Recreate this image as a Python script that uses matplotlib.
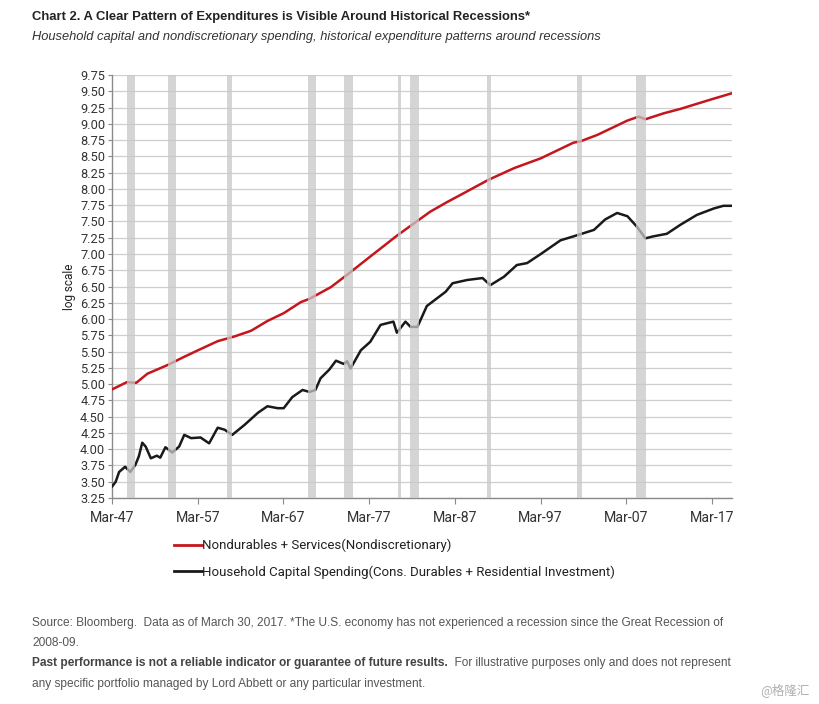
import matplotlib
matplotlib.use('Agg')
import matplotlib.pyplot as plt
from matplotlib.lines import Line2D
import numpy as np

# Nondiscretionary spending (log scale)
red_years = [1947.2, 1948.9, 1950.0, 1951.3, 1953.6, 1955.6, 1957.2, 1959.5, 1961.4, 1963.4,
             1965.3, 1967.2, 1969.2, 1970.2, 1972.7, 1974.6, 1977.2, 1980.4, 1982.4, 1984.3,
             1986.3, 1987.3, 1991.1, 1994.1, 1997.2, 2001.0, 2001.8, 2003.8, 2007.3, 2008.6,
             2009.4, 2011.5, 2013.5, 2017.2, 2019.5]
red_vals = [4.92, 5.03, 5.02, 5.16, 5.29, 5.42, 5.52, 5.66, 5.73, 5.82,
            5.97, 6.09, 6.26, 6.31, 6.49, 6.68, 6.95, 7.28, 7.47, 7.65,
            7.80, 7.87, 8.14, 8.32, 8.47, 8.71, 8.73, 8.83, 9.05, 9.11,
            9.07, 9.16, 9.23, 9.38, 9.47]

# Household capital spending (log scale)
black_years = [1947.2, 1947.6, 1948.0, 1948.7, 1949.3, 1949.9, 1950.3, 1950.7, 1951.1, 1951.7,
               1952.4, 1952.8, 1953.4, 1954.2, 1955.0, 1955.6, 1956.4, 1957.5, 1958.5, 1959.5,
               1960.3, 1961.2, 1962.6, 1964.2, 1965.3, 1966.5, 1967.2, 1968.2, 1969.4, 1970.2,
               1970.9, 1971.5, 1972.5, 1973.3, 1974.2, 1974.6, 1975.0, 1976.2, 1977.3, 1978.5,
               1980.0, 1980.4, 1981.4, 1982.0, 1982.8, 1983.9, 1985.1, 1986.1, 1986.9, 1988.6,
               1990.4, 1991.3, 1992.9, 1994.4, 1995.6, 1997.2, 1999.5, 2001.0, 2003.4, 2004.7,
               2006.1, 2007.3, 2008.4, 2009.4, 2010.3, 2011.9, 2013.5, 2015.4, 2017.4, 2018.5,
               2019.5]
black_vals = [3.43, 3.50, 3.65, 3.73, 3.65, 3.76, 3.89, 4.10, 4.04, 3.86,
              3.90, 3.87, 4.03, 3.95, 4.04, 4.22, 4.17, 4.18, 4.09, 4.33,
              4.30, 4.22, 4.37, 4.56, 4.66, 4.63, 4.63, 4.80, 4.91, 4.88,
              4.91, 5.09, 5.22, 5.36, 5.31, 5.35, 5.24, 5.52, 5.65, 5.91,
              5.96, 5.79, 5.96, 5.88, 5.88, 6.20, 6.32, 6.42, 6.55, 6.60,
              6.63, 6.52, 6.65, 6.83, 6.86, 7.00, 7.21, 7.27, 7.37, 7.53,
              7.63, 7.58, 7.42, 7.24, 7.27, 7.31, 7.45, 7.60, 7.70, 7.74,
              7.74]

# Recession bands (start, end) in decimal years
rec_start = [1948.95, 1953.7, 1960.6, 1970.05, 1974.2, 1980.55, 1981.9, 1990.9, 2001.4, 2008.25]
rec_end = [1949.9, 1954.6, 1961.2, 1970.95, 1975.3, 1980.9, 1983.0, 1991.4, 2002.0, 2009.45]

tick_years = [1947.17, 1957.17, 1967.17, 1977.17, 1987.17, 1997.17, 2007.17, 2017.17]
tick_labels = ['Mar-47', 'Mar-57', 'Mar-67', 'Mar-77', 'Mar-87', 'Mar-97', 'Mar-07', 'Mar-17']
y_ticks = np.arange(3.25, 9.76, 0.25)

narrow = ['Liberation Sans', 'DejaVu Sans']
tickfont = ['Roboto', 'DejaVu Sans']

fig = plt.figure(figsize=(8.19, 7.04), dpi=100)
ax = fig.add_axes([112 / 819, 1 - 498 / 704, 620 / 819, 423 / 704])

red_c = '#c4161c'
ax.plot(red_years, red_vals, color=red_c, lw=1.8, zorder=3)
ax.plot(black_years, black_vals, color='#1a1a1a', lw=1.8, zorder=3)

for s, e in zip(rec_start, rec_end):
    ax.axvspan(s, e, color='#c8c8c8', alpha=0.75, lw=0, zorder=4)

ax.set_xlim(1947.17, 2019.5)
ax.set_ylim(3.25, 9.75)
ax.set_yticks(y_ticks)
ax.set_yticklabels([f'{v:.2f}' for v in y_ticks])
ax.set_xticks(tick_years)
ax.set_xticklabels(tick_labels)
ax.grid(axis='y', color='#cfcfcf', lw=0.9, zorder=1)
ax.set_axisbelow(True)

for sp in ['top', 'right']:
    ax.spines[sp].set_visible(False)
for sp in ['left', 'bottom']:
    ax.spines[sp].set_color('#8a8a8a')
    ax.spines[sp].set_linewidth(1.0)
ax.tick_params(axis='y', length=3, color='#8a8a8a', labelsize=9.2, labelcolor='#333333', pad=2)
ax.tick_params(axis='x', length=4, color='#8a8a8a', labelsize=10.2, labelcolor='#333333', pad=5)
for lab in ax.get_xticklabels() + ax.get_yticklabels():
    lab.set_family(tickfont)
ax.set_ylabel('log scale', fontsize=8.5, family=tickfont, color='#222222', labelpad=3)

# Title
fig.text(32 / 819, 1 - 17 / 704, 'Chart 2. A Clear Pattern of Expenditures is Visible Around Historical Recessions*',
         fontsize=9.4, fontweight='bold', family=narrow, color='#222222', va='center')
fig.text(32 / 819, 1 - 37 / 704, 'Household capital and nondiscretionary spending, historical expenditure patterns around recessions',
         fontsize=9.3, style='italic', family=narrow, color='#333333', va='center')

# Legend
handles = [Line2D([], [], color=red_c, lw=2),
           Line2D([], [], color='#1a1a1a', lw=2)]
leg = fig.legend(handles, ['Nondurables + Services(Nondiscretionary)',
                           'Household Capital Spending(Cons. Durables + Residential Investment)'],
                 loc='upper left', bbox_to_anchor=(162 / 819, 1 - 527 / 704), frameon=False,
                 handlelength=2.1, handletextpad=0.05, labelspacing=1.0,
                 prop={'family': tickfont, 'size': 9.5})
for t in leg.get_texts():
    t.set_color('#222222')

# Footer
gray = '#555555'
fs = 8.6
fig.text(32 / 819, 1 - 623 / 704, 'Source: Bloomberg.  Data as of March 30, 2017. *The U.S. economy has not experienced a recession since the Great Recession of',
         fontsize=fs, family=narrow, color=gray, va='center')
fig.text(32 / 819, 1 - 643 / 704, '2008-09.', fontsize=fs, family=narrow, color=gray, va='center')
t1 = fig.text(32 / 819, 1 - 663 / 704, 'Past performance is not a reliable indicator or guarantee of future results.',
              fontsize=fs, family=narrow, color='#444444', fontweight='bold', va='center')
ax.annotate('  For illustrative purposes only and does not represent', xy=(1, 0.5), xycoords=t1,
            va='center', ha='left', fontsize=fs, family=narrow, color=gray, annotation_clip=False)
fig.text(32 / 819, 1 - 684 / 704, 'any specific portfolio managed by Lord Abbett or any particular investment.',
         fontsize=fs, family=narrow, color=gray, va='center')
fig.text(760 / 819, 1 - 690 / 704, '@格隆汇', fontsize=9, family=['Noto Sans CJK SC', 'DejaVu Sans'],
         color='#b0b0b0', va='center')

fig.savefig('out.png', dpi=100)
